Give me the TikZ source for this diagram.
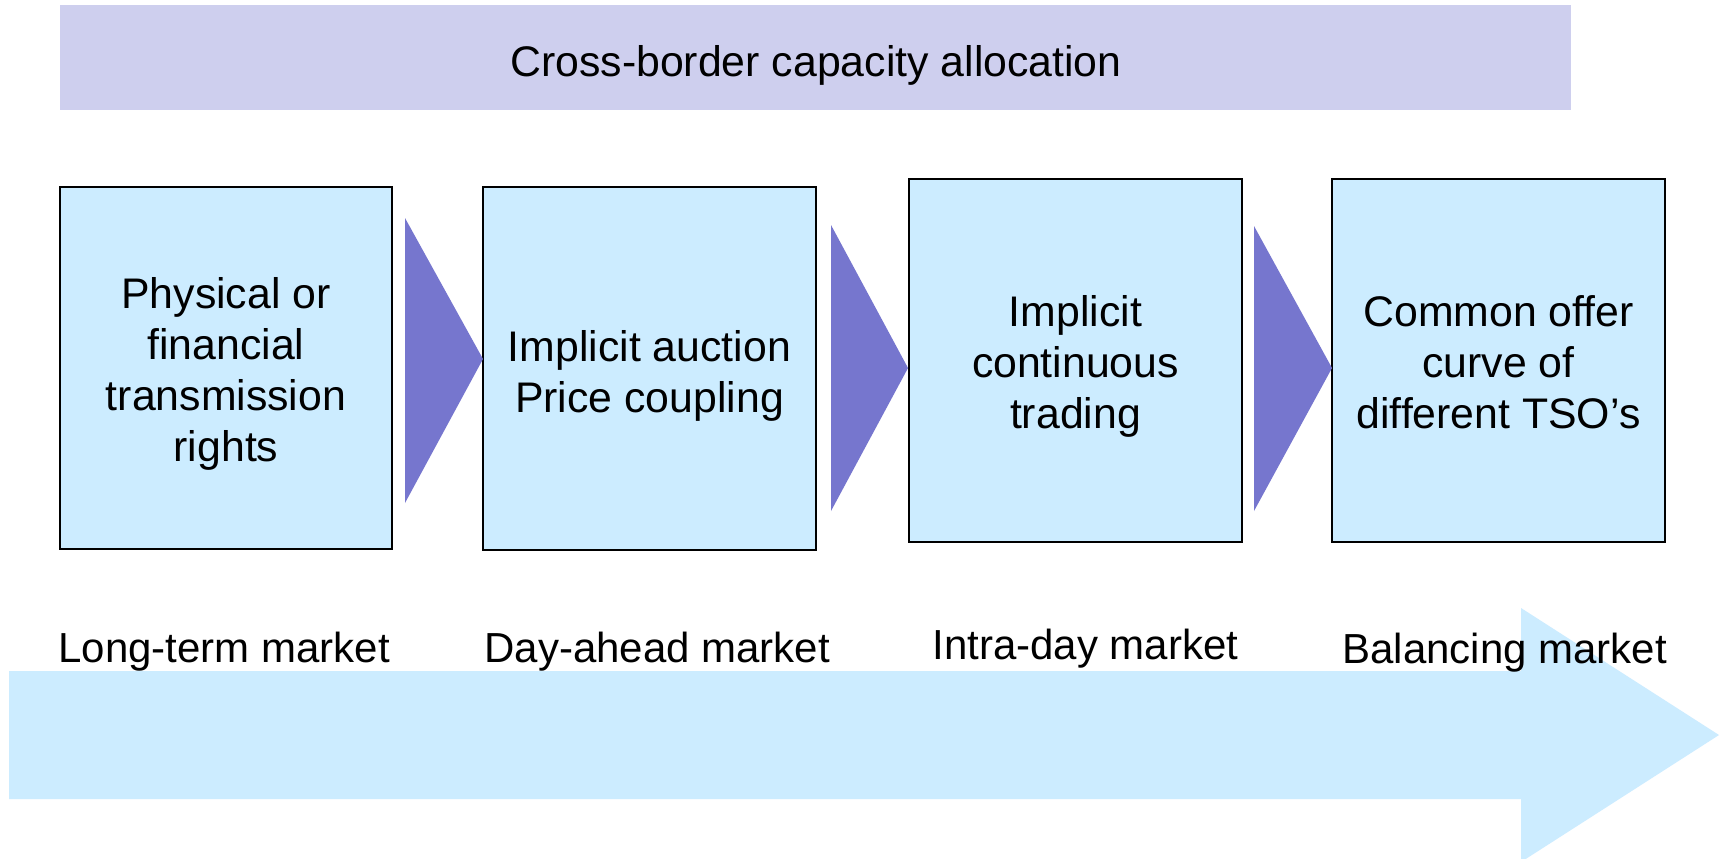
\documentclass[tikz,border=0pt]{standalone}
\usepackage{fontspec}
\setmainfont{Liberation Sans}
\definecolor{banner}{RGB}{206,207,238}
\definecolor{boxfill}{RGB}{204,236,255}
\definecolor{chev}{RGB}{118,118,206}
\tikzset{
  txt/.style={font=\fontsize{21.4pt}{25.5pt}\selectfont, text=black},
  mbox/.style={draw=black, line width=1pt, fill=boxfill, inner sep=0pt},
  btxt/.style={txt, align=center, inner sep=0pt},
  lab/.style={font=\fontsize{21pt}{25.5pt}\selectfont, text=black, inner sep=0pt, anchor=base west},
  chevron/.style={fill=chev, draw=none},
}
\begin{document}
\begin{tikzpicture}[x=0.5pt,y=-0.5pt]
\clip (0,0) rectangle (1723,858);
\fill[white] (0,0) rectangle (1723,858);
% banner
\node[fill=banner, minimum width=755.5pt, minimum height=52.5pt, inner sep=0pt] (ban) at (815.5,57.5) {};
\node[txt, anchor=base, inner sep=0pt] (bantxt) at (816,76) {Cross-border capacity allocation};
% big arrow
\fill[boxfill] (9,671) -- (1521,671) -- (1521,608) -- (1719,735) -- (1521,862) -- (1521,799) -- (9,799) -- cycle;
% boxes
\node[mbox, minimum width=166pt, minimum height=181pt] (b1) at (226,368) {};
\node[mbox, minimum width=166.5pt, minimum height=181.5pt] (b2) at (649.5,368.5) {};
\node[mbox, minimum width=166.5pt, minimum height=181.5pt] (b3) at (1075.5,360.5) {};
\node[mbox, minimum width=166.5pt, minimum height=181.5pt] (b4) at (1498.5,360.5) {};
\node[btxt] (b1t) at ([yshift=-3pt]b1.center) {Physical or\\financial\\transmission\\rights};
\node[btxt] (b2t) at ([yshift=-3.5pt]b2.center) {Implicit auction\\Price coupling};
\node[btxt] (b3t) at ([yshift=-3pt]b3.center) {Implicit\\continuous\\trading};
\node[btxt] (b4t) at ([yshift=-1pt]b4.center) {Common offer\\curve of\\different TSO’s};
% chevrons
\coordinate (t1) at (405,218); \coordinate (p1) at (483,359); \coordinate (u1) at (405,503);
\coordinate (t2) at (831,225); \coordinate (p2) at (908,368); \coordinate (u2) at (831,511);
\coordinate (t3) at (1254,226); \coordinate (p3) at (1332,368); \coordinate (u3) at (1254,511);
\fill[chevron] (t1) -- (p1) -- (u1) -- cycle;
\fill[chevron] (t2) -- (p2) -- (u2) -- cycle;
\fill[chevron] (t3) -- (p3) -- (u3) -- cycle;
% market labels
\node[lab] (l1) at (58,662) {Long-term market};
\node[lab] (l2) at (484,662) {Day-ahead market};
\node[lab] (l3) at (932,659) {Intra-day market};
\node[lab] (l4) at (1342,663) {Balancing market};
\end{tikzpicture}
\end{document}
